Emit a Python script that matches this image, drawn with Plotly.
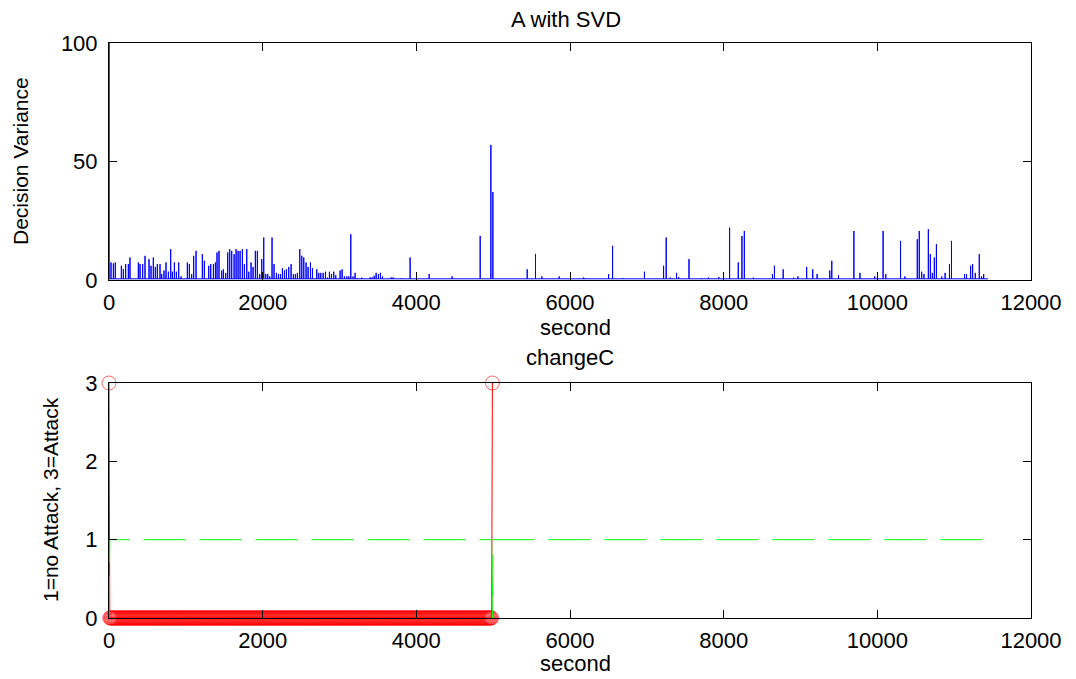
import plotly.graph_objects as go

# ---------------- data ----------------
# Top panel: decision variance spikes (time in seconds, height)
spike_t = [0, 26, 57, 82, 161, 187, 217, 252, 273, 382, 404, 438, 469, 521, 547, 577, 603, 629,
           664, 686, 716, 742, 773, 803, 825, 851, 877, 907, 938, 1020, 1046, 1076, 1102, 1133,
           1215, 1241, 1298, 1324, 1359, 1385, 1406, 1432, 1467, 1489, 1519, 1545, 1571, 1597,
           1628, 1654, 1680, 1706, 1736, 1762, 1793, 1819, 1849, 1875, 1905, 1931, 1962, 1988,
           2014, 2040, 2066, 2092, 2122, 2148, 2179, 2205, 2231, 2257, 2283, 2309, 2339, 2370,
           2400, 2426, 2452, 2483, 2509, 2535, 2565, 2591, 2622, 2648, 2704, 2730, 2756, 2787,
           2817, 2843, 2869, 2895, 2925, 2951, 3008, 3034, 3064, 3095, 3121, 3147, 3177, 3203,
           3234, 3290, 3399, 3425, 3451, 3477, 3507, 3533, 3559, 3672, 3698, 3811, 3919, 4167,
           4466, 4831, 4970, 4996, 5443, 5551, 5634, 5859, 6176, 6192, 6502, 6554, 6694, 6969,
           7218, 7252, 7305, 7387, 7414, 7549, 7710, 7802, 7937, 8077, 8190, 8238, 8269, 8387,
           8635, 8661, 8775, 8910, 8967, 9080, 9159, 9216, 9381, 9407, 9495, 9695, 9774, 9966,
           10075, 10110, 10302, 10359, 10520, 10546, 10577, 10607, 10664, 10690, 10716, 10742,
           10769, 10839, 10882, 10939, 10965, 11135, 11161, 11214, 11240, 11275, 11327, 11358,
           11384, 11440]
spike_h = [100, 7.4, 7.0, 7.4, 6.0, 4.6, 6.7, 6.7, 9.5, 7.4, 6.7, 6.7, 10.2, 8.8, 6.0, 9.5, 5.5, 6.7,
           6.7, 2.5, 4.0, 7.4, 3.5, 13.0, 3.5, 7.4, 3.5, 7.4, 1.5, 7.4, 6.7, 2.5, 10.2, 12.3,
           10.9, 8.1, 6.0, 6.7, 6.7, 7.4, 11.6, 12.3, 4.0, 4.5, 3.0, 11.6, 13.0, 12.3,
           10.9, 13.0, 12.3, 12.3, 13.0, 6.7, 13.0, 3.5, 7.4, 5.5, 12.3, 12.3, 2.5, 8.8,
           17.9, 2.5, 2.5, 1.5, 17.9, 6.7, 3.0, 2.5, 2.5, 5.0, 4.0, 4.5, 5.5, 6.7,
           2.5, 2.5, 3.0, 13.0, 10.2, 9.5, 7.4, 5.5, 7.4, 5.0, 4.5, 3.0, 3.0, 3.0,
           3.5, 1.0, 3.5, 2.5, 3.5, 2.0, 4.0, 4.5, 1.5, 1.5, 1.5, 19.3, 1.5, 3.0,
           0.8, 1.0, 1.1, 1.1, 1.8, 3.0, 2.5, 3.0, 1.5, 1.1, 1.1, 0.8, 9.5, 2.5,
           1.5, 18.6, 57.0, 37.1, 4.5, 11.0, 1.5, 1.5, 1.0, 0.8, 2.5, 14.4, 0.8, 3.5,
           6.0, 17.9, 1.0, 3.0, 1.2, 8.8, 0.8, 1.0, 1.2, 22.1, 7.4, 18.6, 20.7, 1.0,
           2.5, 6.0, 4.5, 1.0, 1.5, 5.5, 4.5, 2.5, 4.0, 8.1, 2.0, 20.7, 3.0, 1.5,
           20.7, 2.5, 16.5, 1.5, 17.2, 20.7, 3.5, 2.5, 21.4, 10.9, 3.0, 9.5,
           15.1, 1.5, 3.0, 6.7, 16.5, 2.5, 2.5, 6.0, 6.7, 3.0, 10.9, 1.5,
           2.5, 0.5]
baseline_level = 0.5

# Bottom panel: changeC
sample_step = 10
attack_times = [0, 4990]
attack_level = 3
normal_level = 0
change_end = 4990
threshold_level = 1
series_end = 11440

x_ticks = [0, 2000, 4000, 6000, 8000, 10000, 12000]
x_ticktext = ["0", "2000", "4000", "6000", "8000", "10000", "12000"]
top_yticks = [0, 50, 100]
bot_yticks = [0, 1, 2, 3]

# ---------------- build series ----------------
top_x, top_y = [], []
for t, h in zip(spike_t, spike_h):
    top_x += [t, t, t]
    top_y += [baseline_level, h, baseline_level]

change_t = list(range(0, change_end + 1, sample_step))
change_v = [attack_level if t in attack_times else normal_level for t in change_t]

green_t, green_v = [], []
for t in change_t:
    green_t.append(t)
    green_v.append(0 if t in attack_times else threshold_level)
green_t += [change_end + sample_step, series_end]
green_v += [threshold_level, threshold_level]

FONT = "Liberation Sans, Arial, Helvetica, sans-serif"

fig = go.Figure()
fig.add_trace(go.Scatter(x=top_x, y=top_y, mode="lines",
                         line=dict(color="#0000FF", width=1),
                         xaxis="x", yaxis="y", showlegend=False, hoverinfo="skip"))
fig.add_trace(go.Scatter(x=change_t, y=change_v, mode="lines+markers",
                         line=dict(color="#FF0000", width=1),
                         marker=dict(symbol="circle-open", size=14, color="#FF0000",
                                     line=dict(width=0.6, color="#FF0000")),
                         cliponaxis=False,
                         xaxis="x2", yaxis="y2", showlegend=False, hoverinfo="skip"))
fig.add_trace(go.Scatter(x=green_t, y=green_v, mode="lines",
                         line=dict(color="#00FF00", width=1, dash="42px,14px"),
                         xaxis="x2", yaxis="y2", showlegend=False, hoverinfo="skip"))

W, H = 1076, 679
xl, xr = 109, 1031
xdom = [xl / W, xr / W]
top_dom = [(H - 280) / H, (H - 43) / H]
bot_dom = [(H - 618) / H, (H - 383) / H]

axis_common = dict(showline=True, linecolor="black", linewidth=1, mirror="ticks",
                   ticks="inside", ticklen=8, tickwidth=1, tickcolor="black",
                   showgrid=False, zeroline=False, automargin=False,
                   tickfont=dict(family=FONT, size=22, color="black"))

fig.update_layout(
    width=W, height=H,
    margin=dict(l=0, r=0, t=0, b=0, autoexpand=False),
    paper_bgcolor="white", plot_bgcolor="white",
    xaxis=dict(domain=xdom, range=[0, 12000], tickvals=x_ticks, ticktext=x_ticktext,
               anchor="y", ticklabelstandoff=3, **axis_common),
    yaxis=dict(domain=top_dom, range=[0, 100], tickvals=top_yticks, anchor="x",
               ticklabelstandoff=6, **axis_common),
    xaxis2=dict(domain=xdom, range=[0, 12000], tickvals=x_ticks, ticktext=x_ticktext,
                anchor="y2", ticklabelstandoff=3, **axis_common),
    yaxis2=dict(domain=bot_dom, range=[0, 3], tickvals=bot_yticks, anchor="x2",
                ticklabelstandoff=6, **axis_common),
)

cx = (xl + xr) / 2 / W
def ann(text, x, ypx, size, angle=0):
    return dict(text=text, x=x, y=1 - ypx / H, xref="paper", yref="paper",
                xanchor="center", yanchor="middle", showarrow=False, textangle=angle,
                font=dict(family=FONT, size=size, color="black"))

fig.update_layout(annotations=[
    ann("A with SVD", cx - 4 / W, 19, 22),
    ann("second", cx + 5 / W, 327, 22),
    ann("changeC", cx, 357, 22),
    ann("second", cx + 5 / W, 663, 22),
    ann("Decision Variance", 20 / W, 161, 21, -90),
    ann("1=no Attack, 3=Attack", 50 / W, 500, 21, -90),
])

fig.write_html("out.html")
